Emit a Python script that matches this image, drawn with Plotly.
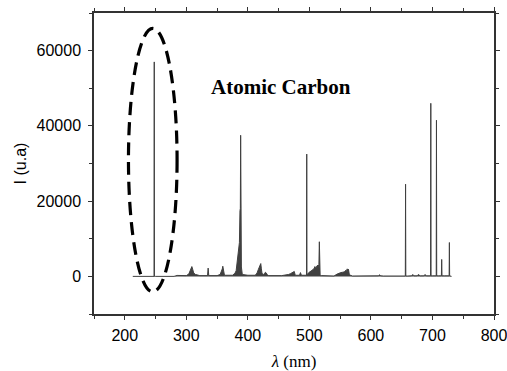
import plotly.graph_objects as go

# Spectrum (wavelength nm, intensity a.u.)
wavelength = [213, 246.5, 247.6, 247.9, 248.2, 249.5, 280, 285, 300, 304, 306, 307.5, 309, 310.5, 312, 315, 318, 322,
              334.5, 335.5, 336.5, 350, 355, 357, 358.5, 359.3, 360.2, 362, 375, 379, 381, 382.5, 384, 385.2, 386.3,
              387.2, 387.8, 388.3, 388.8, 389.5, 391, 400, 412, 415, 417, 418.5, 420, 421, 422, 423, 425, 427,
              428.5, 430, 431.5, 434, 455, 462, 466, 469, 471, 473, 474, 475.5, 477, 484, 485.5, 487, 493,
              495.3, 495.7, 496.1, 497, 499, 502, 504, 506, 508, 509, 510.5, 512, 513.5, 514.5, 515.5, 516.2,
              516.7, 517.5, 520, 540, 545, 548, 551, 554, 557, 559, 560, 561.5, 562.5, 563.5, 565, 570,
              600, 612, 614, 616, 620, 650, 655.9, 656.3, 656.7, 660, 666, 668, 670, 675, 677, 680, 686, 688,
              690, 696.9, 697.3, 697.7, 700, 706.1, 706.5, 706.9, 710, 714.5, 715, 715.5, 720, 727.1, 727.5,
              727.9, 731]
intensity = [0, 0, 0, 57000, 0, 0, 0, 250, 200, 600, 1500, 2300, 2600, 1800, 900, 500, 300, 200,
             200, 2200, 200, 200, 500, 1200, 2000, 2700, 1500, 300, 300, 800, 1500, 3500, 6500, 7500, 9000,
             17500, 18000, 37500, 9000, 2500, 500, 300, 300, 900, 1800, 2500, 3100, 3400, 2000, 800, 500, 700,
             1100, 900, 400, 200, 200, 300, 500, 700, 900, 1100, 1200, 1300, 300, 300, 1000, 300, 300,
             300, 32500, 300, 600, 1000, 1300, 1600, 1800, 2200, 2600, 2300, 2800, 3000, 2600, 3200, 9200,
             2500, 200, 200, 100, 600, 900, 1000, 1100, 1200, 1600, 1200, 2000, 1100, 1900, 400, 100,
             100, 150, 400, 150, 100, 100, 100, 24500, 100, 100, 150, 500, 150, 150, 500, 150, 150, 500,
             150, 150, 46000, 150, 150, 150, 41500, 150, 150, 150, 4500, 150, 150, 150, 9000,
             150, 0]

x_ticks = [200, 300, 400, 500, 600, 700, 800]
x_tick_labels = ["200", "300", "400", "500", "600", "700", "800"]
y_ticks = [0, 20000, 40000, 60000]
y_tick_labels = ["0", "20000", "40000", "60000"]

fig = go.Figure()
fig.add_trace(go.Scatter(
    x=wavelength, y=intensity, mode="lines",
    line=dict(color="#404040", width=1),
    fill="tozeroy", fillcolor="#404040",
    showlegend=False, hoverinfo="skip",
))

fig.add_shape(type="circle", xref="x", yref="y",
              x0=206, x1=285, y0=-4100, y1=65900,
              line=dict(color="black", width=3.2, dash="13px,7px"))

fig.add_annotation(x=454, y=50400, xref="x", yref="y", text="<b>Atomic Carbon</b>",
                   showarrow=False,
                   font=dict(family="Liberation Serif, Times New Roman, serif", size=21, color="black"))

axis_common = dict(
    showline=True, linecolor="#333333", linewidth=1.5, mirror="allticks",
    ticks="outside", ticklen=4, tickwidth=1, tickcolor="#333333",
    showgrid=False, zeroline=False, automargin=False, ticklabeloverflow="allow",
    tickfont=dict(family="Liberation Sans, Arial, sans-serif", size=16, color="black"),
)

fig.update_xaxes(range=[150, 800], tickvals=x_ticks, ticktext=x_tick_labels,
                 minor=dict(dtick=50, ticks="outside", ticklen=3, tickcolor="#333333"),
                 ticklabelstandoff=2,
                 title=dict(text="<i>λ</i> (nm)", standoff=14,
                            font=dict(family="Liberation Serif, Times New Roman, serif", size=17, color="black")),
                 **axis_common)
fig.update_yaxes(range=[-10000, 70000], tickvals=y_ticks, ticktext=y_tick_labels,
                 minor=dict(dtick=10000, ticks="outside", ticklen=3, tickcolor="#333333"),
                 ticklabelstandoff=4,
                 title=dict(text="I (u.a)", standoff=6,
                            font=dict(family="Liberation Sans, Arial, sans-serif", size=16, color="black")),
                 **axis_common)

fig.update_layout(
    width=507, height=371,
    margin=dict(l=94, r=13, t=13, b=57),
    plot_bgcolor="white", paper_bgcolor="white",
)

fig.write_html("out.html", config={"displayModeBar": False},
               post_script="document.body.style.margin='0';document.body.style.overflow='hidden';")
